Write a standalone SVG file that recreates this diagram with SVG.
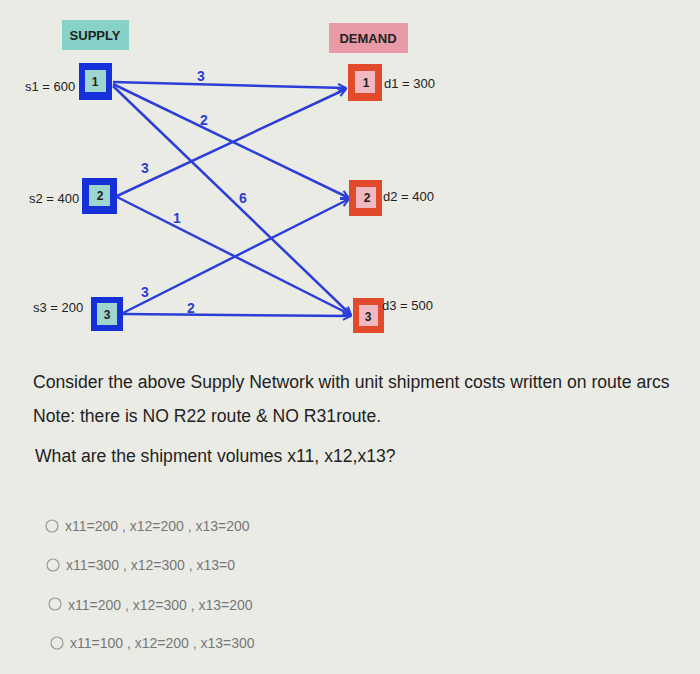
<svg xmlns="http://www.w3.org/2000/svg" width="700" height="674" viewBox="0 0 700 674">
<defs>
<style>
.t{font-family:"Liberation Sans",Arial,sans-serif;fill:#222}
.lbl{font-family:"Liberation Sans",Arial,sans-serif;font-size:13px;fill:#222}
.c{font-family:"Liberation Sans",Arial,sans-serif;font-size:14px;font-weight:bold;fill:#2b3fd0}
.sb{fill:#1530d8}
.si{fill:#9fd5cf}
.db{fill:#e24a2c}
.di{fill:#f0b8c0}
.n{font-family:"Liberation Sans",Arial,sans-serif;font-size:12px;font-weight:bold;fill:#222;text-anchor:middle}
.e{stroke:#2b3fd8;stroke-width:2.5;fill:none;marker-end:url(#a)}
.o{font-family:"Liberation Sans",Arial,sans-serif;font-size:14px;fill:#777}
.r{fill:none;stroke:#999;stroke-width:1.2}
</style>
<marker id="a" markerWidth="10" markerHeight="10" refX="9" refY="5" orient="auto" markerUnits="userSpaceOnUse"><path d="M1,1 L9,5 L1,9" fill="none" stroke="#2b3fd8" stroke-width="2"/></marker>
</defs>
<rect width="700" height="674" fill="#ebebe6"/>
<g id="supply"><rect x="62" y="20" width="67" height="30" fill="#86d2c8"/><text class="t" x="95" y="40" font-size="13" font-weight="bold" text-anchor="middle">SUPPLY</text></g>
<g id="demand"><rect x="329" y="23" width="79" height="30" fill="#e89aa6"/><text class="t" x="368" y="43" font-size="13" font-weight="bold" text-anchor="middle">DEMAND</text></g>
<g id="edges">
<line class="e" x1="113" y1="82" x2="346" y2="88"/>
<line class="e" x1="113" y1="84" x2="349" y2="198"/>
<line class="e" x1="113" y1="86" x2="351" y2="315"/>
<line class="e" x1="117" y1="196" x2="346" y2="89"/>
<line class="e" x1="117" y1="197" x2="351" y2="315"/>
<line class="e" x1="123" y1="313" x2="349" y2="199"/>
<line class="e" x1="123" y1="314" x2="351" y2="316"/>
<text class="c" x="197" y="81">3</text>
<text class="c" x="200" y="125">2</text>
<text class="c" x="141" y="173">3</text>
<text class="c" x="239" y="203">6</text>
<text class="c" x="173" y="223">1</text>
<text class="c" x="141" y="297">3</text>
<text class="c" x="187" y="313">2</text>
</g>
<g id="s1"><rect class="sb" x="79" y="63" width="33" height="37"/><rect class="si" x="85" y="70" width="21" height="22"/><text class="n" x="95" y="86">1</text><text class="lbl" x="25" y="91">s1 = 600</text></g>
<g id="s2"><rect class="sb" x="82" y="178" width="35" height="36"/><rect class="si" x="89" y="185" width="21" height="21"/><text class="n" x="100" y="200">2</text><text class="lbl" x="29" y="203">s2 = 400</text></g>
<g id="s3"><rect class="sb" x="91" y="297" width="32" height="34"/><rect class="si" x="97" y="303" width="20" height="22"/><text class="n" x="107" y="319">3</text><text class="lbl" x="33" y="312">s3 = 200</text></g>
<g id="d1"><rect class="db" x="348" y="64" width="34" height="37"/><rect class="di" x="355" y="71" width="20" height="22"/><text class="n" x="366" y="87">1</text><text class="lbl" x="384" y="88">d1 = 300</text></g>
<g id="d2"><rect class="db" x="349" y="180" width="33" height="36"/><rect class="di" x="356" y="187" width="20" height="21"/><text class="n" x="367" y="202">2</text><text class="lbl" x="383" y="201">d2 = 400</text></g>
<g id="d3"><rect class="db" x="353" y="298" width="31" height="35"/><rect class="di" x="359" y="305" width="19" height="21"/><text class="n" x="368" y="321">3</text><text class="lbl" x="382" y="310">d3 = 500</text></g>
<g id="question">
<text class="t" x="33" y="388" font-size="17.6">Consider the above  Supply Network with unit shipment costs written on route arcs</text>
<text class="t" x="33" y="422" font-size="17.6">Note: there is NO R22 route &amp; NO R31route.</text>
<text class="t" x="35" y="462" font-size="17.6">What are the shipment volumes x11, x12,x13?</text>
</g>
<g id="options">
<circle class="r" cx="52" cy="526" r="6"/><text class="o" x="65" y="531">x11=200 , x12=200 , x13=200</text>
<circle class="r" cx="53" cy="565" r="6"/><text class="o" x="66" y="570">x11=300 , x12=300 , x13=0</text>
<circle class="r" cx="55" cy="604" r="6"/><text class="o" x="68" y="610">x11=200 , x12=300 , x13=200</text>
<circle class="r" cx="57" cy="643" r="6"/><text class="o" x="70" y="648">x11=100 , x12=200 , x13=300</text>
</g>
</svg>
